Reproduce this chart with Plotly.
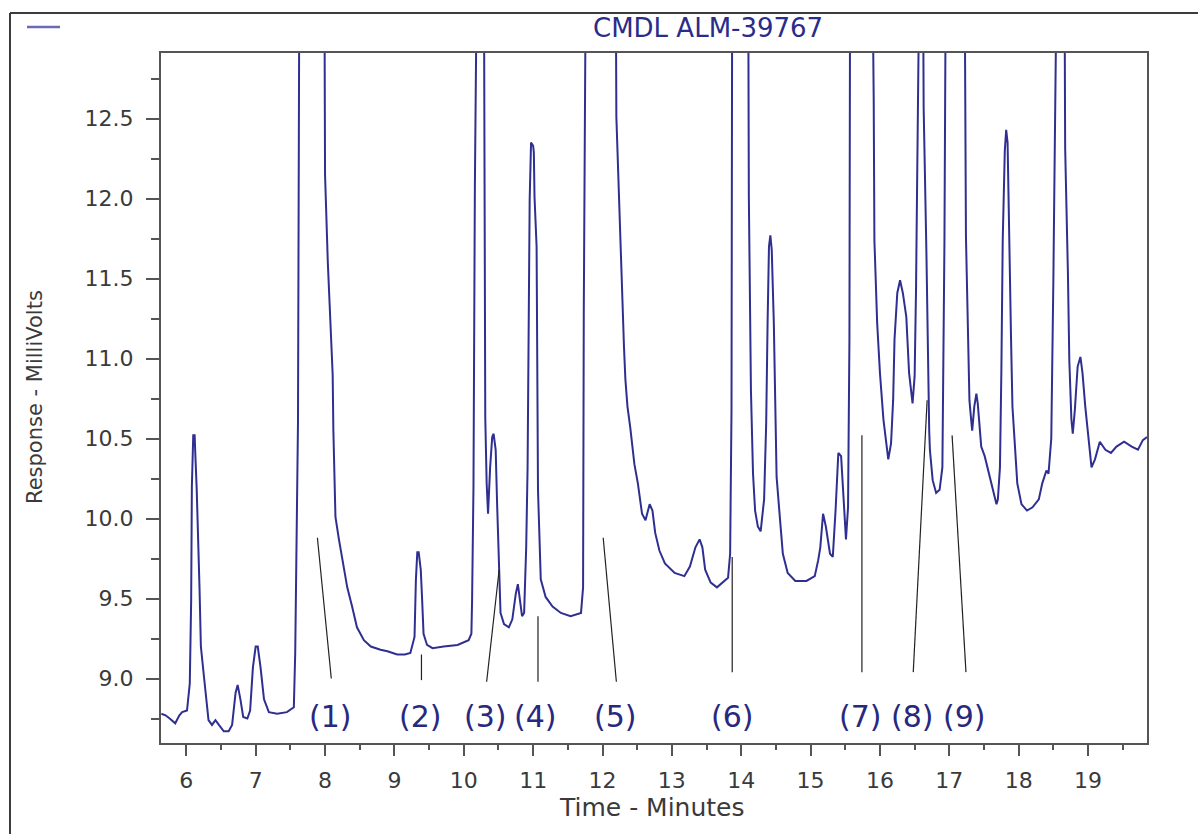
import plotly.graph_objects as go

# Chromatogram trace: retention time (min) and detector response (mV).
# Off-scale peaks carry an estimated apex level above the plotted window.
time_min = [
    5.64, 5.70, 5.76, 5.84, 5.90, 5.94, 6.01, 6.05, 6.07, 6.08, 6.10, 6.12, 6.13, 6.15, 6.19,
    6.21, 6.25, 6.32, 6.37, 6.42, 6.47, 6.54, 6.61, 6.66, 6.71, 6.74, 6.78, 6.82, 6.88, 6.92,
    6.96, 7.00, 7.03, 7.07, 7.12, 7.19, 7.31, 7.45, 7.55, 7.57, 7.61, 7.63, 7.99, 8.00, 8.04,
    8.08, 8.11, 8.12, 8.15, 8.20, 8.25, 8.32, 8.39, 8.46, 8.56, 8.66, 8.80, 8.90, 9.04, 9.15,
    9.23, 9.29, 9.31, 9.33, 9.35, 9.38, 9.40, 9.42, 9.47, 9.55, 9.71, 9.91, 10.07, 10.11, 10.12,
    10.14, 10.16, 10.19, 10.29, 10.30, 10.31, 10.33, 10.35, 10.38, 10.41, 10.43, 10.46, 10.48, 10.51, 10.53,
    10.58, 10.65, 10.70, 10.75, 10.78, 10.81, 10.84, 10.87, 10.90, 10.92, 10.93, 10.95, 10.97, 11.00, 11.01,
    11.02, 11.05, 11.06, 11.07, 11.11, 11.18, 11.28, 11.40, 11.54, 11.69, 11.72, 11.73, 11.76, 12.19, 12.20,
    12.24, 12.26, 12.29, 12.31, 12.33, 12.36, 12.40, 12.46, 12.51, 12.57, 12.62, 12.68, 12.72, 12.76, 12.82,
    12.90, 13.04, 13.18, 13.26, 13.34, 13.40, 13.44, 13.48, 13.56, 13.65, 13.73, 13.81, 13.84, 13.86, 13.87,
    14.10, 14.11, 14.14, 14.17, 14.20, 14.24, 14.28, 14.33, 14.36, 14.38, 14.40, 14.42, 14.44, 14.47, 14.49,
    14.51, 14.56, 14.60, 14.67, 14.78, 14.94, 15.06, 15.11, 15.14, 15.18, 15.22, 15.28, 15.32, 15.36, 15.40,
    15.44, 15.47, 15.51, 15.54, 15.56, 15.57, 15.89, 15.91, 15.92, 15.96, 16.00, 16.05, 16.09, 16.12, 16.16,
    16.19, 16.21, 16.25, 16.29, 16.33, 16.38, 16.42, 16.47, 16.50, 16.52, 16.55, 16.57, 16.62, 16.63, 16.67,
    16.69, 16.71, 16.72, 16.76, 16.81, 16.86, 16.90, 16.93, 16.95, 17.22, 17.24, 17.27, 17.29, 17.31, 17.33,
    17.36, 17.39, 17.41, 17.46, 17.51, 17.57, 17.62, 17.68, 17.70, 17.73, 17.75, 17.77, 17.80, 17.82, 17.84,
    17.86, 17.89, 17.91, 17.95, 17.98, 18.04, 18.12, 18.20, 18.29, 18.34, 18.40, 18.43, 18.47, 18.50, 18.53,
    18.55, 18.66, 18.67, 18.71, 18.73, 18.76, 18.78, 18.81, 18.85, 18.89, 18.92, 18.96, 19.02, 19.05, 19.10,
    19.17, 19.25, 19.33, 19.41, 19.52, 19.63, 19.72, 19.79, 19.85,
]
response_mv = [
    8.78, 8.77, 8.75, 8.72, 8.77, 8.79, 8.80, 8.97, 9.49, 10.20, 10.52, 10.52, 10.40, 10.18, 9.57,
    9.20, 9.03, 8.74, 8.71, 8.74, 8.71, 8.67, 8.67, 8.71, 8.91, 8.96, 8.87, 8.76, 8.75, 8.80,
    9.07, 9.20, 9.20, 9.07, 8.87, 8.79, 8.78, 8.79, 8.82, 9.16, 10.60, 13.50, 13.50, 12.15, 11.60,
    11.24, 10.90, 10.55, 10.01, 9.87, 9.74, 9.57, 9.45, 9.32, 9.24, 9.20, 9.18, 9.17, 9.15, 9.15,
    9.16, 9.26, 9.62, 9.79, 9.79, 9.68, 9.49, 9.28, 9.21, 9.19, 9.20, 9.21, 9.24, 9.28, 9.49,
    10.20, 12.07, 13.50, 13.50, 11.60, 10.63, 10.22, 10.03, 10.32, 10.51, 10.53, 10.43, 10.10, 9.70, 9.41,
    9.34, 9.32, 9.37, 9.53, 9.59, 9.49, 9.39, 9.41, 9.82, 10.32, 10.87, 11.99, 12.35, 12.33, 12.29,
    12.01, 11.70, 10.82, 10.18, 9.62, 9.51, 9.45, 9.41, 9.39, 9.41, 9.57, 11.28, 13.50, 13.50, 12.51,
    11.99, 11.59, 11.28, 11.07, 10.87, 10.70, 10.57, 10.34, 10.22, 10.03, 9.99, 10.09, 10.05, 9.91, 9.80,
    9.72, 9.66, 9.64, 9.70, 9.82, 9.87, 9.82, 9.68, 9.60, 9.57, 9.60, 9.63, 9.78, 10.68, 13.50,
    13.50, 12.01, 10.80, 10.28, 10.05, 9.95, 9.92, 10.12, 10.60, 11.22, 11.70, 11.77, 11.68, 11.22, 10.64,
    10.26, 9.99, 9.78, 9.66, 9.61, 9.61, 9.64, 9.74, 9.82, 10.03, 9.95, 9.78, 9.76, 10.05, 10.41,
    10.39, 10.16, 9.87, 10.07, 11.12, 13.50, 13.50, 12.62, 11.74, 11.22, 10.91, 10.62, 10.47, 10.37, 10.47,
    10.74, 11.12, 11.41, 11.49, 11.41, 11.26, 10.91, 10.72, 10.89, 11.43, 12.32, 13.50, 13.50, 12.57, 11.66,
    10.97, 10.55, 10.43, 10.24, 10.16, 10.18, 10.32, 11.74, 13.50, 13.50, 11.76, 11.01, 10.74, 10.64, 10.55,
    10.70, 10.78, 10.72, 10.45, 10.39, 10.28, 10.18, 10.09, 10.12, 10.32, 10.91, 11.74, 12.30, 12.43, 12.35,
    11.74, 11.12, 10.70, 10.43, 10.22, 10.09, 10.05, 10.07, 10.12, 10.22, 10.30, 10.28, 10.50, 11.49, 12.57,
    13.50, 13.50, 12.32, 11.53, 10.99, 10.62, 10.53, 10.68, 10.95, 11.01, 10.91, 10.70, 10.45, 10.32, 10.37,
    10.48, 10.43, 10.41, 10.45, 10.48, 10.45, 10.43, 10.49, 10.51,
]

# Numbered peak callouts: label text, label position, and leader line ends.
peak_labels = ["(1)", "(2)", "(3)", "(4)", "(5)", "(6)", "(7)", "(8)", "(9)"]
label_time = [8.08, 9.38, 10.31, 11.04, 12.19, 13.88, 15.72, 16.47, 17.22]
label_level = [8.76, 8.76, 8.76, 8.76, 8.76, 8.76, 8.76, 8.76, 8.76]
leader_time_top = [7.89, 9.39, 10.51, 11.07, 12.01, 13.87, 15.74, 16.68, 17.04]
leader_level_top = [9.88, 9.15, 9.68, 9.39, 9.88, 9.76, 10.52, 10.74, 10.52]
leader_time_bottom = [8.09, 9.39, 10.33, 11.07, 12.20, 13.87, 15.74, 16.48, 17.24]
leader_level_bottom = [9.00, 8.99, 8.98, 8.98, 8.98, 9.04, 9.04, 9.04, 9.04]

x_ticks = list(range(6, 20))
y_ticks = [9.0, 9.5, 10.0, 10.5, 11.0, 11.5, 12.0, 12.5]

FONT = "DejaVu Sans, Liberation Sans, sans-serif"
AXIS_GREY = "#555555"
TEXT_GREY = "#3a3a3a"
TRACE_BLUE = "#2f2f91"
LABEL_BLUE = "#28287e"

# Plot-area geometry in page pixels, used to place decorations in paper space.
W_PAGE, H_PAGE = 1198, 834
L, R, T, B = 161, 1147, 53, 743


def paper_x(px):
    return (px - L) / (R - L)


def paper_y(py):
    return (B - py) / (B - T)


fig = go.Figure()

fig.add_trace(go.Scatter(
    x=time_min, y=response_mv, mode="lines",
    line=dict(color=TRACE_BLUE, width=2),
    showlegend=False, hoverinfo="x+y",
))

lx, ly = [], []
for xt, yt, xb, yb in zip(leader_time_top, leader_level_top,
                          leader_time_bottom, leader_level_bottom):
    lx += [xt, xb, None]
    ly += [yt, yb, None]
fig.add_trace(go.Scatter(
    x=lx, y=ly, mode="lines",
    line=dict(color="#222222", width=1.2),
    showlegend=False, hoverinfo="skip",
))

for txt, xv, yv in zip(peak_labels, label_time, label_level):
    fig.add_annotation(
        x=xv, y=yv, xref="x", yref="y", text=txt, showarrow=False,
        font=dict(family=FONT, size=30, color=LABEL_BLUE),
        xanchor="center", yanchor="middle",
    )

# Chart heading, legend swatch and axis titles
fig.add_annotation(
    x=paper_x(708), y=paper_y(28), xref="paper", yref="paper",
    text="CMDL ALM-39767", showarrow=False,
    font=dict(family=FONT, size=26, color="#2b2b8a"),
    xanchor="center", yanchor="middle",
)
fig.add_annotation(
    x=paper_x(35), y=paper_y(397), xref="paper", yref="paper",
    text="Response - MilliVolts", showarrow=False, textangle=-90,
    font=dict(family=FONT, size=21, color=TEXT_GREY),
    xanchor="center", yanchor="middle",
)
fig.add_annotation(
    x=paper_x(652), y=paper_y(807), xref="paper", yref="paper",
    text="Time - Minutes", showarrow=False,
    font=dict(family=FONT, size=25, color=TEXT_GREY),
    xanchor="center", yanchor="middle",
)

shapes = [
    # legend swatch
    dict(type="line", xref="paper", yref="paper",
         x0=paper_x(27), x1=paper_x(60), y0=paper_y(27), y1=paper_y(27),
         line=dict(color="#6b6bb5", width=2.5)),
    # outer window frame (left and top edges)
    dict(type="line", xref="paper", yref="paper",
         x0=paper_x(10), x1=paper_x(10), y0=paper_y(13), y1=paper_y(850),
         line=dict(color="#3c3c3c", width=2)),
    dict(type="line", xref="paper", yref="paper",
         x0=paper_x(10), x1=paper_x(1210), y0=paper_y(13), y1=paper_y(13),
         line=dict(color="#3c3c3c", width=2)),
]

fig.update_layout(
    width=W_PAGE, height=H_PAGE, autosize=False,
    margin=dict(l=L, r=W_PAGE - R, t=T, b=H_PAGE - B, pad=0),
    paper_bgcolor="white", plot_bgcolor="white",
    showlegend=False, shapes=shapes,
    font=dict(family=FONT, color=TEXT_GREY),
)

fig.update_xaxes(
    range=[5.635, 19.85], tickvals=x_ticks, ticktext=[str(v) for v in x_ticks],
    ticks="outside", ticklen=11, tickwidth=2, tickcolor=AXIS_GREY,
    minor=dict(dtick=0.5, tick0=0, ticks="outside", ticklen=5, tickwidth=2, tickcolor=AXIS_GREY),
    showline=True, linecolor=AXIS_GREY, linewidth=2, mirror=True,
    showgrid=False, zeroline=False,
    tickfont=dict(family=FONT, size=22, color=TEXT_GREY),
    ticklabelstandoff=6,
)
fig.update_yaxes(
    range=[8.597, 12.91], tickvals=y_ticks, ticktext=[f"{v:.1f}" for v in y_ticks],
    ticks="outside", ticklen=13, tickwidth=2, tickcolor=AXIS_GREY,
    minor=dict(dtick=0.25, tick0=0, ticks="outside", ticklen=8, tickwidth=2, tickcolor=AXIS_GREY),
    showline=True, linecolor=AXIS_GREY, linewidth=2, mirror=True,
    showgrid=False, zeroline=False,
    tickfont=dict(family=FONT, size=22, color=TEXT_GREY),
    ticklabelstandoff=8,
)

fig.write_html("out.html")
